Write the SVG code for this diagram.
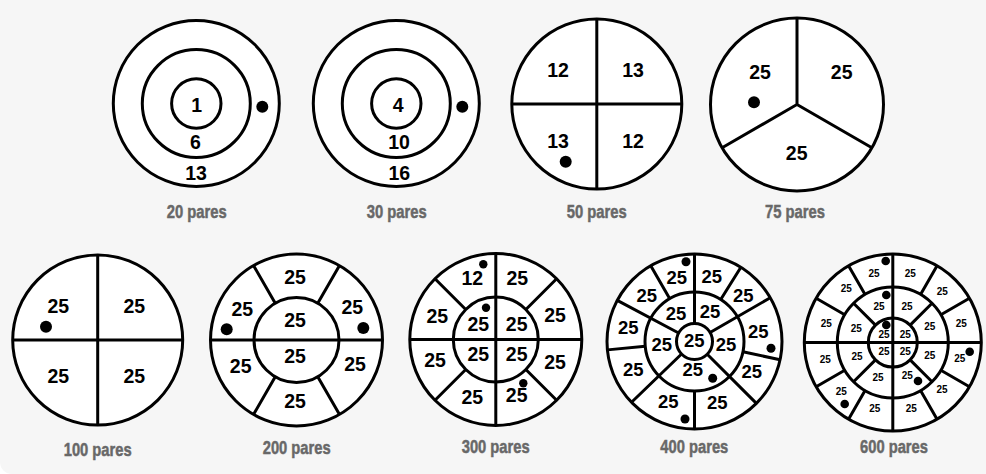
<svg xmlns="http://www.w3.org/2000/svg" width="986" height="474" viewBox="0 0 986 474">
<style>
.c{fill:#ffffff;stroke:#000;stroke-width:3}
.l{stroke:#000;stroke-width:3;fill:none}
.d{fill:#000}
.n{font-family:"Liberation Sans",Arial,sans-serif;font-weight:bold;font-size:19.5px;fill:#000;text-anchor:middle}
.m{font-family:"Liberation Sans",Arial,sans-serif;font-weight:bold;font-size:18.5px;fill:#000;text-anchor:middle}
.s{font-family:"Liberation Sans",Arial,sans-serif;font-weight:bold;font-size:10px;fill:#000;text-anchor:middle}
.p{font-family:"Liberation Sans",Arial,sans-serif;font-weight:bold;font-size:19px;fill:#686868;stroke:#686868;stroke-width:0.5;text-anchor:middle}
</style>
<rect x="0" y="0" width="986" height="474" fill="#ffffff"/>
<path d="M0 0 H986 V474 H12 A12 12 0 0 1 0 462 Z" fill="#f6f6f6"/>

<g id="t20">
<circle class="c" cx="196.3" cy="103.5" r="83"/>
<circle class="c" cx="196.3" cy="103.5" r="54"/>
<circle class="c" cx="196.3" cy="103.5" r="24.7"/>
<circle class="d" cx="262.3" cy="106.7" r="6"/>
<text class="n" x="196.7" y="112">1</text>
<text class="n" x="195.5" y="149">6</text>
<text class="n" x="196" y="180">13</text>
<text class="p" x="196.7" y="218" textLength="60" lengthAdjust="spacingAndGlyphs">20 pares</text>
</g>

<g id="t30">
<circle class="c" cx="396.3" cy="103.5" r="83"/>
<circle class="c" cx="396.3" cy="103.5" r="54"/>
<circle class="c" cx="396.3" cy="103.5" r="24.7"/>
<circle class="d" cx="462.3" cy="106.7" r="6"/>
<text class="n" x="398.3" y="112">4</text>
<text class="n" x="399" y="149">10</text>
<text class="n" x="399.3" y="180">16</text>
<text class="p" x="396.7" y="218" textLength="60" lengthAdjust="spacingAndGlyphs">30 pares</text>
</g>

<g id="t50">
<circle class="c" cx="596.8" cy="104" r="85"/>
<path class="l" d="M596.8 19 V189 M511.8 104 H681.8"/>
<circle class="d" cx="565.7" cy="161.7" r="6"/>
<text class="n" x="558" y="77">12</text>
<text class="n" x="633" y="77">13</text>
<text class="n" x="558" y="148">13</text>
<text class="n" x="633" y="148">12</text>
<text class="p" x="596.7" y="218" textLength="60" lengthAdjust="spacingAndGlyphs">50 pares</text>
</g>

<g id="t75">
<circle class="c" cx="797" cy="104.5" r="86.5"/>
<path class="l" d="M797 18 V104.5 L722.1 147.75 M797 104.5 L871.9 147.75"/>
<circle class="d" cx="754" cy="102.3" r="6"/>
<text class="n" x="760" y="79">25</text>
<text class="n" x="841.7" y="79">25</text>
<text class="n" x="796.7" y="160">25</text>
<text class="p" x="795" y="218" textLength="60" lengthAdjust="spacingAndGlyphs">75 pares</text>
</g>

<g id="t100">
<circle class="c" cx="97.7" cy="340" r="85"/>
<path class="l" d="M97.7 255 V425 M12.7 340 H182.7"/>
<circle class="d" cx="46" cy="326.7" r="6"/>
<text class="n" x="58.3" y="313.3">25</text>
<text class="n" x="134.3" y="313">25</text>
<text class="n" x="58.3" y="383.3">25</text>
<text class="n" x="134.3" y="383">25</text>
<text class="p" x="97.7" y="456" textLength="68" lengthAdjust="spacingAndGlyphs">100 pares</text>
</g>

<g id="t200">
<circle class="c" cx="296.5" cy="340" r="86"/>
<circle class="c" cx="296.5" cy="340" r="42.5"/>
<path class="l" d="M210.5 340 H382.5 M317.75 303.2 L339.5 265.5 M275.25 303.2 L253.5 265.5 M275.25 376.8 L253.5 414.5 M317.75 376.8 L339.5 414.5"/>
<circle class="d" cx="226.7" cy="329.3" r="6"/>
<circle class="d" cx="363.3" cy="328" r="6"/>
<text class="n" x="295" y="284.3">25</text>
<text class="n" x="295" y="326.7">25</text>
<text class="n" x="295" y="363.3">25</text>
<text class="n" x="295" y="407.7">25</text>
<text class="n" x="242.3" y="315.7">25</text>
<text class="n" x="352.3" y="314.3">25</text>
<text class="n" x="240.7" y="372.7">25</text>
<text class="n" x="355" y="370.7">25</text>
<text class="p" x="296.7" y="454" textLength="68" lengthAdjust="spacingAndGlyphs">200 pares</text>
</g>

<g id="t300">
<circle class="c" cx="495.8" cy="339.5" r="86"/>
<circle class="c" cx="495.8" cy="339.5" r="42.5"/>
<path class="l" d="M495.8 253.5 V425.5 M409.8 339.5 H581.8 M465.75 309.45 L435 278.7 M525.85 309.45 L556.6 278.7 M465.75 369.55 L435 400.3 M525.85 369.55 L556.6 400.3"/>
<circle class="d" cx="483.3" cy="264.3" r="4.2"/>
<circle class="d" cx="486" cy="307.7" r="4.2"/>
<circle class="d" cx="523.3" cy="383.3" r="4.2"/>
<text class="n" x="472.3" y="285">12</text>
<text class="n" x="517.3" y="285">25</text>
<text class="n" x="437.3" y="323.3">25</text>
<text class="n" x="555" y="322.3">25</text>
<text class="n" x="478.3" y="330.7">25</text>
<text class="n" x="516.7" y="330.7">25</text>
<text class="n" x="478.3" y="360.7">25</text>
<text class="n" x="516.7" y="360.7">25</text>
<text class="n" x="435" y="366.7">25</text>
<text class="n" x="555" y="369.3">25</text>
<text class="n" x="472.3" y="404">25</text>
<text class="n" x="516.7" y="402.3">25</text>
<text class="p" x="495.7" y="453.3" textLength="68" lengthAdjust="spacingAndGlyphs">300 pares</text>
</g>

<g id="t400">
<circle class="c" cx="694.5" cy="341.5" r="87.5"/>
<circle class="c" cx="694.5" cy="341.5" r="49.5"/>
<path class="l" d="M694.5 323.5 V254 M710.09 332.5 L770.28 297.75 M707.23 354.23 L756.37 403.37 M681.55 354 L631.56 402.29 M678.61 333.05 L617.25 300.42 M720.73 299.52 L740.87 267.3 M742.92 351.79 L780.08 359.69 M694.5 391 V429 M645.23 346.24 L607.4 349.88 M669.75 298.63 L650.75 265.72"/>
<circle class="c" cx="694.5" cy="341.5" r="18"/>
<circle class="d" cx="686" cy="261.7" r="4.5"/>
<circle class="d" cx="771" cy="348.3" r="4.5"/>
<circle class="d" cx="712.7" cy="378.3" r="4.5"/>
<circle class="d" cx="685" cy="419" r="4.5"/>
<text class="m" x="676.7" y="284.3">25</text>
<text class="m" x="711.7" y="283.3">25</text>
<text class="m" x="646.7" y="301.7">25</text>
<text class="m" x="743.3" y="302.3">25</text>
<text class="m" x="628.3" y="334.3">25</text>
<text class="m" x="758.3" y="338.3">25</text>
<text class="m" x="633.3" y="375.7">25</text>
<text class="m" x="751.7" y="378.3">25</text>
<text class="m" x="668.3" y="408.3">25</text>
<text class="m" x="717.3" y="409">25</text>
<text class="m" x="676" y="320">25</text>
<text class="m" x="710" y="317.7">25</text>
<text class="m" x="661.7" y="350.7">25</text>
<text class="m" x="726" y="351">25</text>
<text class="m" x="692.7" y="375.7">25</text>
<text class="m" x="694.3" y="347">25</text>
<text class="p" x="694.3" y="453.3" textLength="68" lengthAdjust="spacingAndGlyphs">400 pares</text>
</g>

<g id="t600">
<circle class="c" cx="892.8" cy="342.5" r="88.5"/>
<circle class="c" cx="892.8" cy="342.5" r="55.5"/>
<circle class="c" cx="892.8" cy="342.5" r="24.5"/>
<path class="l" d="M892.8 254 V431 M804.3 342.5 H981.3 M875.48 325.18 L853.56 303.26 M910.12 325.18 L932.04 303.26 M875.48 359.82 L853.56 381.74 M910.12 359.82 L932.04 381.74 M940.86 314.75 L969.44 298.25 M920.55 294.44 L937.05 265.86 M865.05 294.44 L848.55 265.86 M844.74 314.75 L816.16 298.25 M844.74 370.25 L816.16 386.75 M865.05 390.56 L848.55 419.14 M920.55 390.56 L937.05 419.14 M940.86 370.25 L969.44 386.75"/>
<circle class="d" cx="885.7" cy="261" r="4.3"/>
<circle class="d" cx="886.3" cy="295" r="4.3"/>
<circle class="d" cx="886.3" cy="325" r="4.3"/>
<circle class="d" cx="969.7" cy="351.7" r="4.3"/>
<circle class="d" cx="918" cy="381" r="4.3"/>
<circle class="d" cx="844.7" cy="404" r="4.3"/>
<text class="s" x="874" y="277.3">25</text>
<text class="s" x="910.3" y="277.3">25</text>
<text class="s" x="846.3" y="291.7">25</text>
<text class="s" x="942.3" y="295">25</text>
<text class="s" x="826.3" y="327.3">25</text>
<text class="s" x="961.3" y="327.3">25</text>
<text class="s" x="825.3" y="363.3">25</text>
<text class="s" x="959.7" y="362.3">25</text>
<text class="s" x="841.3" y="395">25</text>
<text class="s" x="942" y="393.3">25</text>
<text class="s" x="874.7" y="412.3">25</text>
<text class="s" x="911.3" y="412.3">25</text>
<text class="s" x="879" y="310">25</text>
<text class="s" x="907" y="310">25</text>
<text class="s" x="856.3" y="332.3">25</text>
<text class="s" x="929.7" y="330">25</text>
<text class="s" x="857" y="360">25</text>
<text class="s" x="929.7" y="359.3">25</text>
<text class="s" x="878" y="381">25</text>
<text class="s" x="907.3" y="379">25</text>
<text class="s" x="884" y="337.7">25</text>
<text class="s" x="905.3" y="337.7">25</text>
<text class="s" x="884" y="355">25</text>
<text class="s" x="905.3" y="355">25</text>
<text class="p" x="894" y="453.3" textLength="68" lengthAdjust="spacingAndGlyphs">600 pares</text>
</g>
</svg>
